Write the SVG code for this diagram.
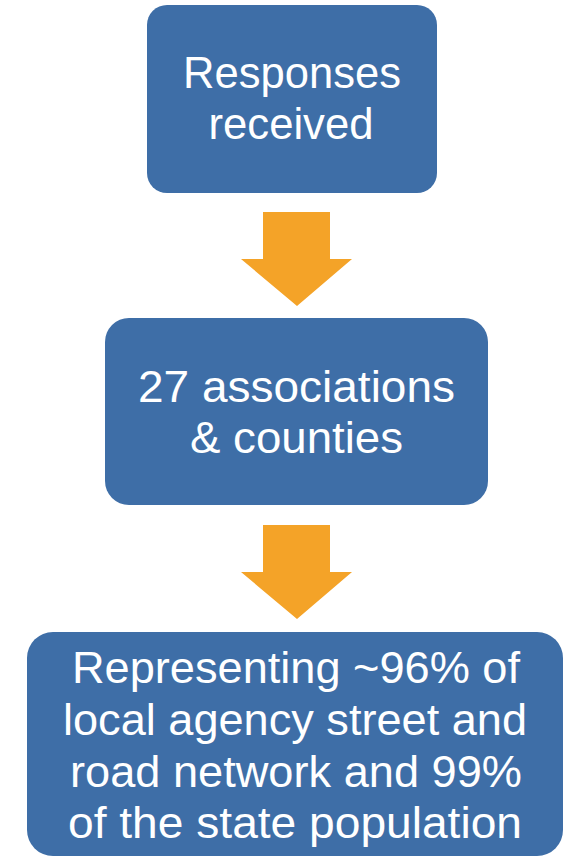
<svg xmlns="http://www.w3.org/2000/svg" width="564" height="857" viewBox="0 0 564 857">
<style>
.box{fill:#3E6EA7;}
.arr{fill:#F4A328;}
.t{fill:#ffffff;font-family:"Liberation Sans",Arial,sans-serif;font-size:44px;text-anchor:middle;}
</style>
<rect width="564" height="857" fill="#ffffff"/>
<g id="connectors">
<polygon class="arr" points="263,212 330,212 330,259 352,259 297,306 241,259 263,259"/>
<polygon class="arr" points="263,525 330,525 330,572 352,572 297,619 241,572 263,572"/>
</g>
<g id="node1">
<rect class="box" x="147" y="5" width="290" height="188" rx="20" ry="20"/>
<text class="t" x="292" y="88" textLength="218" lengthAdjust="spacingAndGlyphs">Responses</text>
<text class="t" x="291" y="139" textLength="165" lengthAdjust="spacingAndGlyphs">received</text>
</g>
<g id="node2">
<rect class="box" x="105" y="318" width="383" height="187" rx="24" ry="24"/>
<text class="t" x="296.5" y="402" textLength="317" lengthAdjust="spacingAndGlyphs">27 associations</text>
<text class="t" x="296.5" y="453" textLength="213" lengthAdjust="spacingAndGlyphs">&amp; counties</text>
</g>
<g id="node3">
<rect class="box" x="27" y="632" width="536" height="224" rx="26" ry="26"/>
<text class="t" x="296" y="683" textLength="448" lengthAdjust="spacingAndGlyphs">Representing ~96% of</text>
<text class="t" x="295" y="735" textLength="464" lengthAdjust="spacingAndGlyphs">local agency street and</text>
<text class="t" x="296" y="787" textLength="452" lengthAdjust="spacingAndGlyphs">road network and 99%</text>
<text class="t" x="295" y="838" textLength="454" lengthAdjust="spacingAndGlyphs">of the state population</text>
</g>
</svg>
